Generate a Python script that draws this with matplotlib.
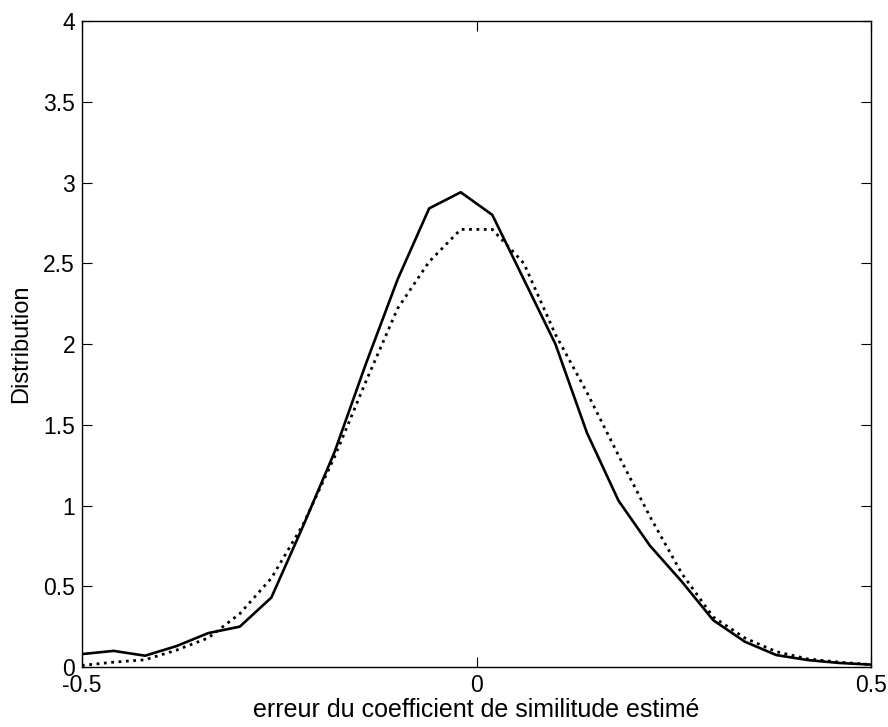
import matplotlib
matplotlib.use("Agg")
from matplotlib import pyplot as plt
import numpy as np

# error values sampled every 0.04
x = [-0.50, -0.46, -0.42, -0.38, -0.34, -0.30, -0.26, -0.22, -0.18, -0.14,
     -0.10, -0.06, -0.02, 0.02, 0.06, 0.10, 0.14, 0.18, 0.22, 0.26,
     0.30, 0.34, 0.38, 0.42, 0.46, 0.50]

estimated = [0.08, 0.10, 0.07, 0.13, 0.21, 0.25, 0.43, 0.87, 1.33, 1.88,
             2.40, 2.84, 2.94, 2.80, 2.40, 2.00, 1.45, 1.03, 0.75, 0.53,
             0.29, 0.157, 0.074, 0.043, 0.025, 0.015]

theory = [0.01, 0.03, 0.045, 0.105, 0.18, 0.33, 0.55, 0.88, 1.30, 1.77,
          2.22, 2.51, 2.71, 2.71, 2.50, 2.06, 1.70, 1.31, 0.93, 0.58,
          0.31, 0.18, 0.095, 0.05, 0.03, 0.015]

plt.rcParams['font.family'] = ['Liberation Sans', 'DejaVu Sans']

fig = plt.figure(figsize=(8.88, 7.27), dpi=100)
ax = fig.add_axes([0.0923, 0.0825, 0.8886, 0.8885])

ax.plot(x, estimated, color='black', lw=1.9, linestyle='-')
ax.plot(x, theory, color='black', lw=2.0, linestyle=':')

ax.set_xlim(-0.5, 0.5)
ax.set_ylim(0, 4)
ax.set_xticks([-0.5, 0, 0.5])
ax.set_xticklabels(['-0.5', '0', '0.5'])
ax.set_yticks(np.arange(0, 4.01, 0.5))
ax.set_yticklabels(['0', '0.5', '1', '1.5', '2', '2.5', '3', '3.5', '4'])

ax.tick_params(direction='in', length=7, width=0.8, labelsize=16.5,
               top=True, right=True, pad=5)
for s in ax.spines.values():
    s.set_linewidth(1.0)

ax.set_xlabel('erreur du coefficient de similitude estimé', fontsize=18, labelpad=1)
ax.set_ylabel('Distribution', fontsize=17, labelpad=8)

plt.savefig('out.png', dpi=100)
